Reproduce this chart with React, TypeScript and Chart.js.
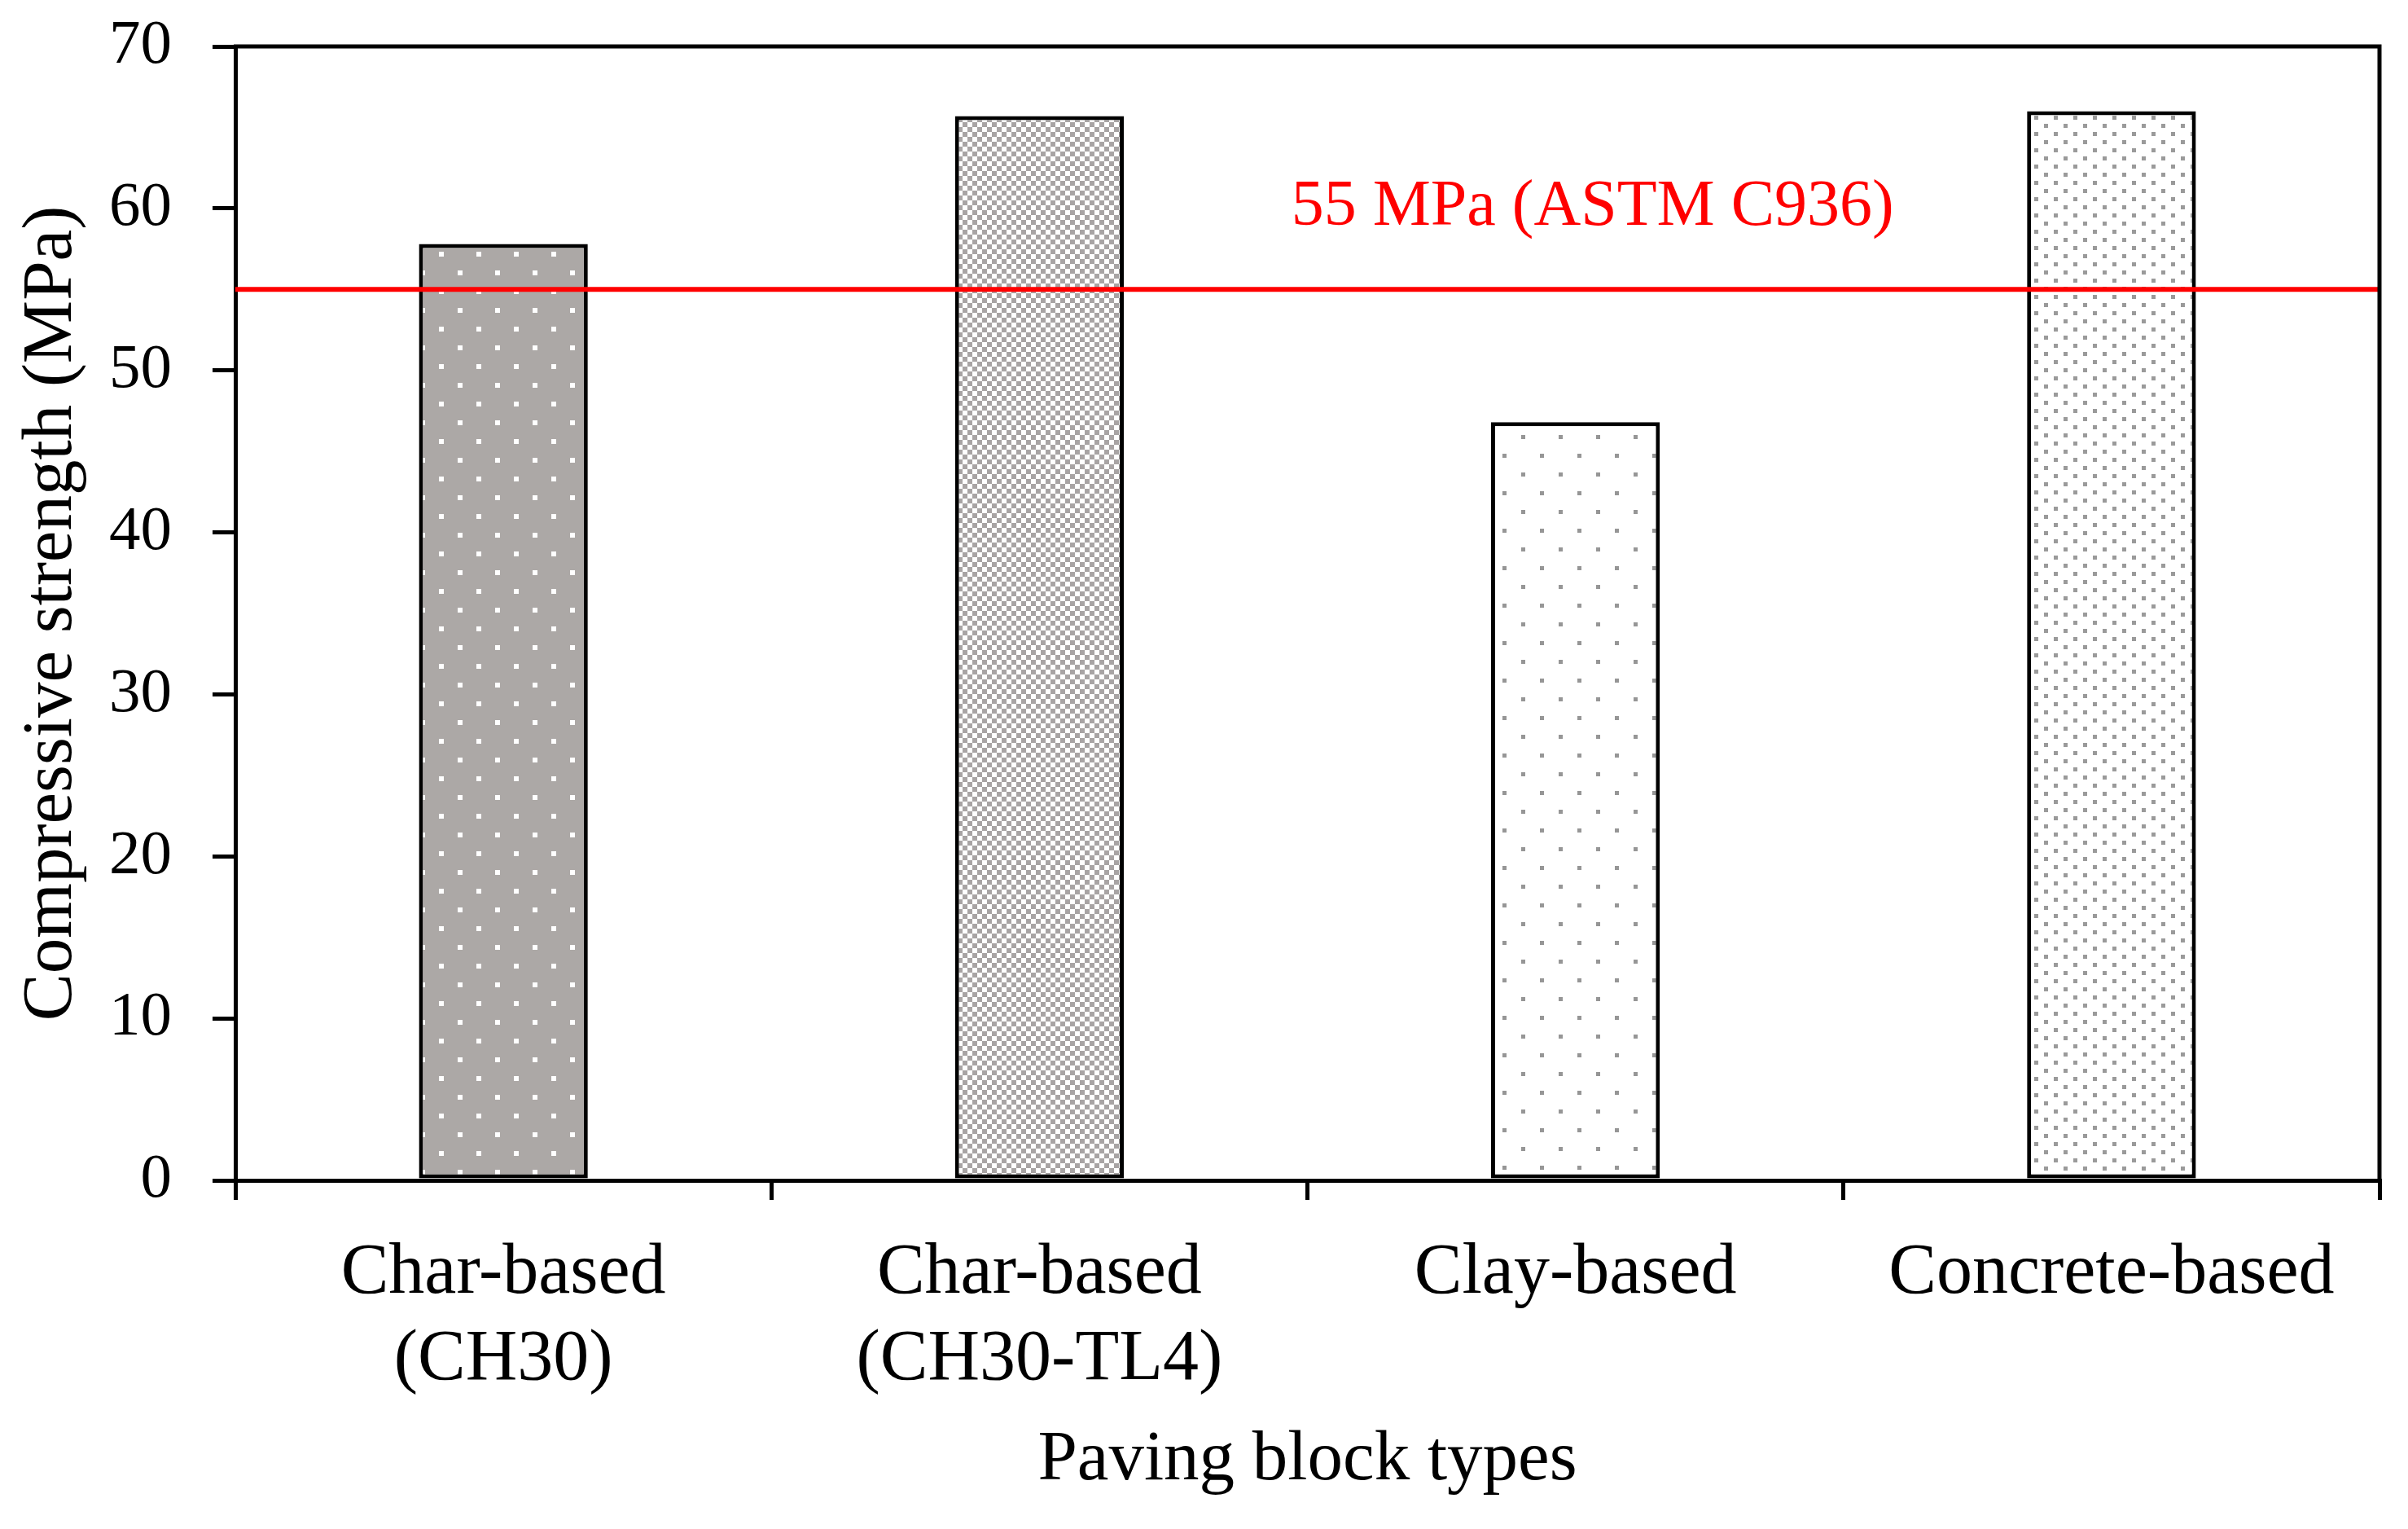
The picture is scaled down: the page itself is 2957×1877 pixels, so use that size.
import React, { useEffect, useRef } from "react";
import { Chart, registerables } from "chart.js";

Chart.register(...registerables);

const categories: string[][] = [
  ["Char-based", "(CH30)"],
  ["Char-based", "(CH30-TL4)"],
  ["Clay-based"],
  ["Concrete-based"],
];
const strengthValues: number[] = [57.8, 65.7, 46.8, 66.0];
const yMin = 0;
const yMax = 70;
const yStep = 10;
const thresholdValue = 55;
const thresholdLabel = "55 MPa (ASTM C936)";
const yTitle = "Compressive strength (MPa)";
const xTitle = "Paving block types";

const FONT = '"Liberation Serif", "Times New Roman", serif';

function makePattern(
  w: number,
  h: number,
  bg: string,
  fg: string,
  rects: [number, number, number, number][]
): CanvasPattern | string {
  const c = document.createElement("canvas");
  c.width = w;
  c.height = h;
  const g = c.getContext("2d");
  if (!g) return bg;
  g.fillStyle = bg;
  g.fillRect(0, 0, w, h);
  g.fillStyle = fg;
  rects.forEach(([x, y, rw, rh]) => g.fillRect(x, y, rw, rh));
  const p = g.createPattern(c, "repeat");
  return p || bg;
}

export default function App() {
  const ref = useRef<HTMLCanvasElement | null>(null);

  useEffect(() => {
    document.body.style.margin = "0";
    const canvas = ref.current;
    if (!canvas) return;

    const patterns = [
      makePattern(46, 46, "#aca8a6", "#ffffff", [
        [10, 10, 6, 6],
        [33, 33, 6, 6],
      ]),
      makePattern(12, 12, "#ffffff", "#a8a4a4", [
        [0, 0, 6, 6],
        [6, 6, 6, 6],
      ]),
      makePattern(46, 46, "#ffffff", "#969696", [
        [5, 5, 5, 5],
        [28, 28, 5, 5],
      ]),
      makePattern(24, 20, "#ffffff", "#9a9a9a", [
        [2, 2, 5, 5],
        [14, 12, 5, 5],
      ]),
    ];

    const overlay = {
      id: "overlay",
      afterDatasetsDraw(chart: any) {
        const { ctx, chartArea, scales } = chart;
        const y = scales.y.getPixelForValue(thresholdValue);
        ctx.save();
        ctx.strokeStyle = "#ff0000";
        ctx.lineWidth = 6;
        ctx.beginPath();
        ctx.moveTo(chartArea.left, y);
        ctx.lineTo(chartArea.right, y);
        ctx.stroke();
        ctx.fillStyle = "#ff0000";
        ctx.font = `80px ${FONT}`;
        ctx.textAlign = "center";
        ctx.textBaseline = "alphabetic";
        const tx = chartArea.left + 0.633 * (chartArea.right - chartArea.left);
        ctx.fillText(thresholdLabel, tx, y - 79);
        ctx.restore();
      },
      afterDraw(chart: any) {
        const { ctx, chartArea } = chart;
        ctx.save();
        ctx.strokeStyle = "#000000";
        ctx.lineWidth = 5;
        ctx.beginPath();
        ctx.moveTo(chartArea.left - 2, chartArea.top);
        ctx.lineTo(chartArea.right, chartArea.top);
        ctx.lineTo(chartArea.right, chartArea.bottom);
        ctx.stroke();
        ctx.restore();
      },
    };

    const chart = new Chart(canvas, {
      type: "bar",
      data: {
        labels: categories,
        datasets: [
          {
            data: strengthValues,
            backgroundColor: patterns as any,
            borderColor: "#000000",
            borderWidth: 5,
            borderSkipped: false,
            categoryPercentage: 1,
            barPercentage: 0.315,
          },
        ],
      },
      options: {
        responsive: false,
        animation: false,
        devicePixelRatio: 1,
        layout: { padding: { top: 57, right: 35, left: 0, bottom: 0 } },
        plugins: {
          legend: { display: false },
          tooltip: { enabled: false },
        },
        scales: {
          x: {
            grid: {
              display: true,
              drawOnChartArea: false,
              drawTicks: true,
              tickLength: 24,
              color: "#000000",
              lineWidth: 5,
              tickWidth: 5,
              offset: true,
            },
            border: { display: true, color: "#000000", width: 5 },
            ticks: {
              color: "#000000",
              font: { family: FONT, size: 88, lineHeight: 1.2 },
              padding: 38,
              maxRotation: 0,
              autoSkip: false,
            },
            title: {
              display: true,
              text: xTitle,
              color: "#000000",
              font: { family: FONT, size: 87, lineHeight: 1.2 },
              padding: { top: 0, bottom: 32 },
            },
            afterFit(scale: any) {
              scale.height = 428;
              scale.paddingLeft = 0;
              scale.paddingRight = 0;
            },
          },
          y: {
            min: yMin,
            max: yMax,
            grid: {
              display: true,
              drawOnChartArea: false,
              drawTicks: true,
              tickLength: 28,
              color: "#000000",
              lineWidth: 5,
              tickWidth: 5,
            },
            border: { display: true, color: "#000000", width: 5 },
            ticks: {
              stepSize: yStep,
              color: "#000000",
              font: { family: FONT, size: 77, lineHeight: 1.2 },
              padding: 50,
            },
            title: {
              display: true,
              text: yTitle,
              color: "#000000",
              font: { family: FONT, size: 87, lineHeight: 1.2 },
              padding: { top: 12, bottom: 0 },
            },
            afterFit(scale: any) {
              scale.width = 289;
              scale.paddingTop = 0;
              scale.paddingBottom = 0;
            },
          },
        },
      },
      plugins: [overlay],
    });

    return () => {
      chart.destroy();
    };
  }, []);

  return (
    <div style={{ width: 2957, height: 1877, background: "#ffffff" }}>
      <canvas
        ref={ref}
        width={2957}
        height={1877}
        style={{ display: "block", width: 2957, height: 1877 }}
      />
    </div>
  );
}
